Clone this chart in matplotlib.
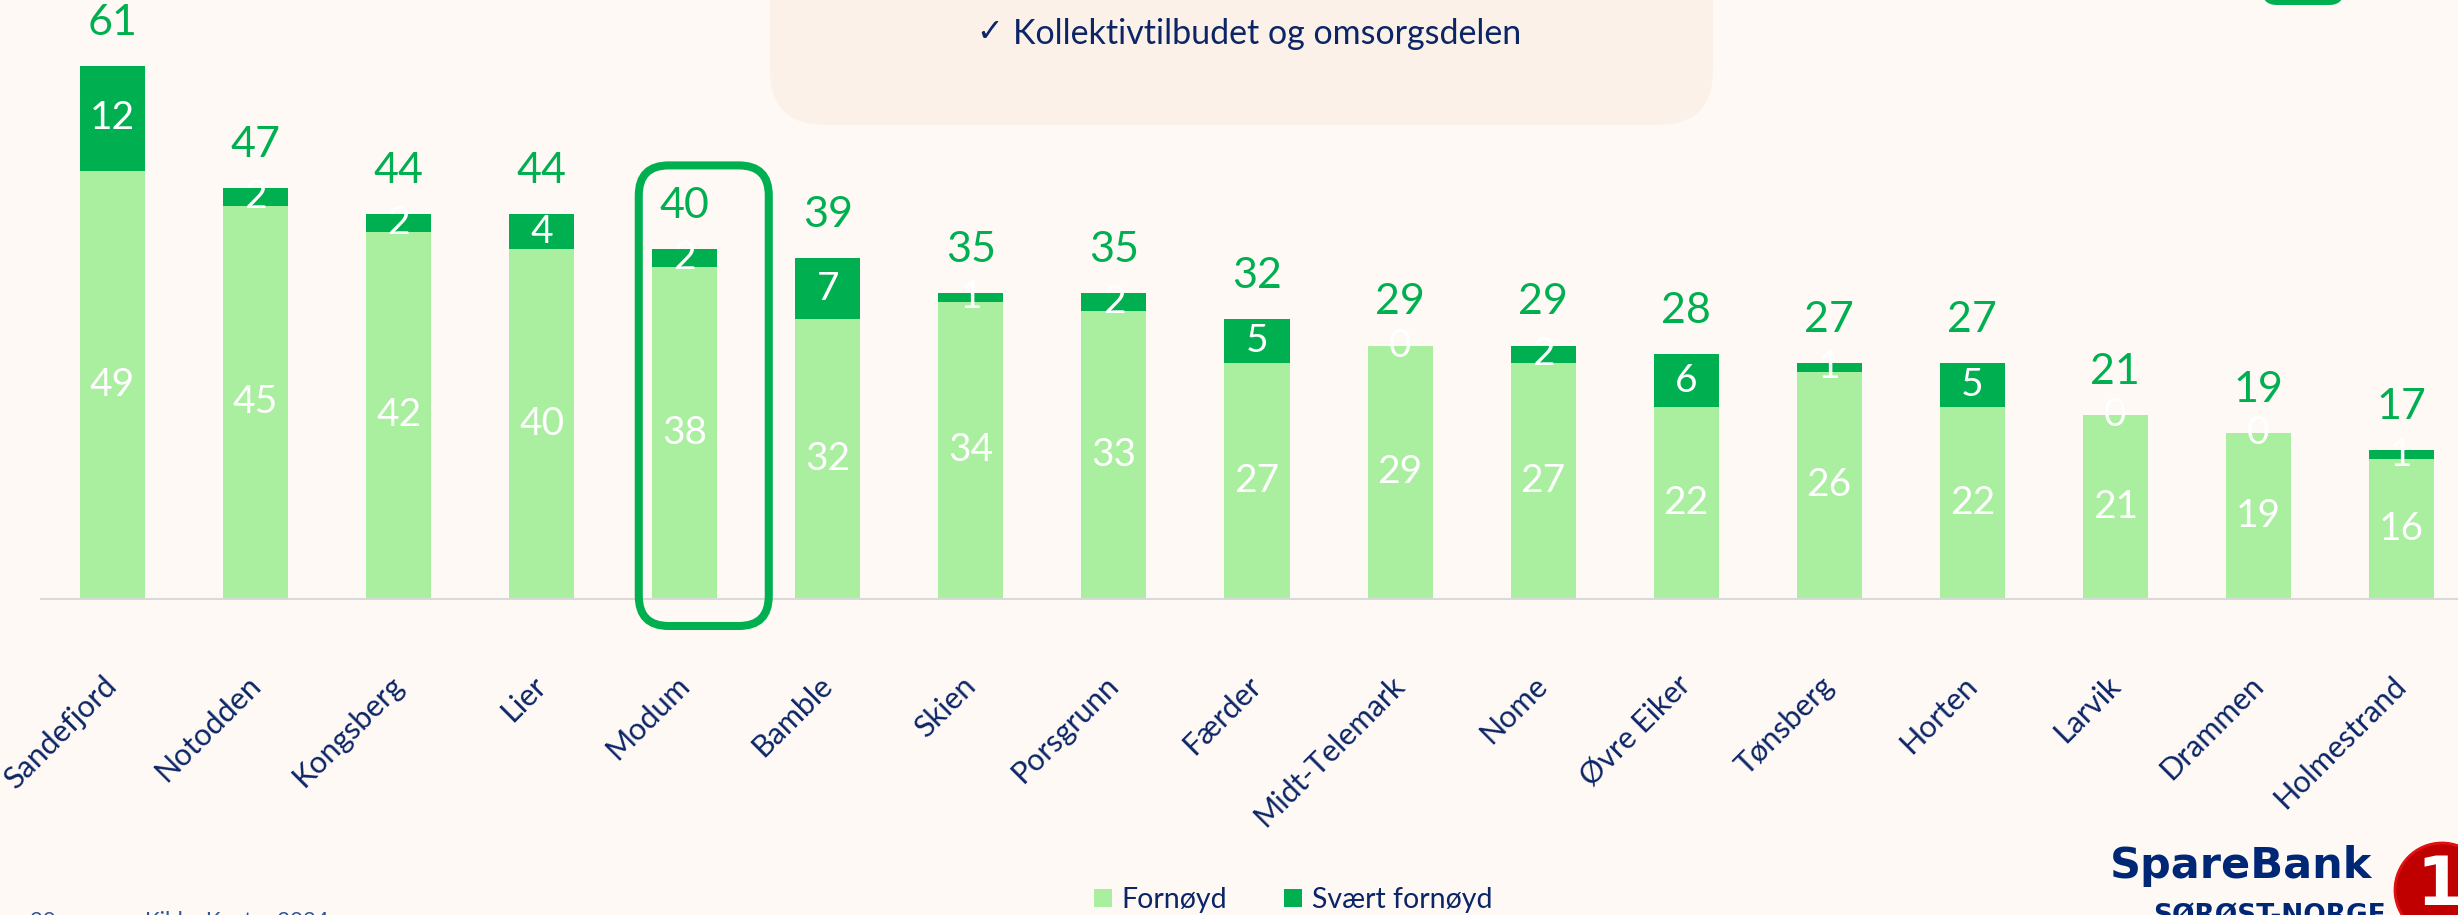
import matplotlib
matplotlib.use("Agg")
import matplotlib.pyplot as plt
from matplotlib.patches import Patch, FancyBboxPatch, Circle
import numpy as np

# ---------------- data ----------------
categories = ["Sandefjord", "Notodden", "Kongsberg", "Lier", "Modum", "Bamble", "Skien",
              "Porsgrunn", "Færder", "Midt-Telemark", "Nome", "Øvre Eiker", "Tønsberg",
              "Horten", "Larvik", "Drammen", "Holmestrand"]
fornoyd = [49, 45, 42, 40, 38, 32, 34, 33, 27, 29, 27, 22, 26, 22, 21, 19, 16]
svaert_fornoyd = [12, 2, 2, 4, 2, 7, 1, 2, 5, 0, 2, 6, 1, 5, 0, 0, 1]
totals = [61, 47, 44, 44, 40, 39, 35, 35, 32, 29, 29, 28, 27, 27, 21, 19, 17]
series_names = ["Fornøyd", "Svært fornøyd"]
highlight = "Modum"
box_text = "Kollektivtilbudet og omsorgsdelen"

# ---------------- style ----------------
BG = "#FEF9F5"
LIGHT = "#AAEE9F"
DARK = "#00B050"
NAVY = "#0B2566"
FONT = ["Lato", "DejaVu Sans"]
plt.rcParams["font.family"] = FONT

W, H, DPI = 2458, 915, 100
fig = plt.figure(figsize=(W / DPI, H / DPI), dpi=DPI, facecolor=BG)

# axes: x from -0.5..16.5 spanning px 41..2473, baseline at px 599 from top
ax_left = 41 / W
ax_w = 2432 / W
ax_bottom = (H - 599) / H
ax_h = 599 / H
ax = fig.add_axes([ax_left, ax_bottom, ax_w, ax_h])
ax.set_facecolor("none")
ax.set_xlim(-0.5, 16.5)
ax.set_ylim(0, 599 / 8.74)

x = np.arange(len(categories))
bw = 0.455
ax.bar(x, fornoyd, bw, color=LIGHT, label=series_names[0], zorder=2)
ax.bar(x, svaert_fornoyd, bw, bottom=fornoyd, color=DARK, label=series_names[1], zorder=2)

for i in range(len(categories)):
    f = fornoyd[i]
    s = svaert_fornoyd[i]
    ax.text(x[i], f / 2, str(f), ha="center", va="center", color="white", fontsize=28, zorder=4)
    ax.text(x[i], f + s / 2, str(s), ha="center", va="center", color="white", fontsize=28, zorder=4)
    ax.annotate(str(totals[i]), (x[i], f + s), xytext=(0, 31), textcoords="offset points",
                ha="center", va="center", color=DARK, fontsize=31, zorder=4,
                annotation_clip=False)

for sp in ["top", "right", "left"]:
    ax.spines[sp].set_visible(False)
ax.spines["bottom"].set_color("#D9D9D9")
ax.spines["bottom"].set_linewidth(1.5)
ax.set_yticks([])
ax.set_xticks(x, categories, rotation=45, ha="right", va="center", rotation_mode="anchor",
              fontsize=22, color=NAVY)
ax.tick_params(axis="x", length=0, pad=59)

# highlight box around Modum (pixel offsets relative to the bar)
fig.canvas.draw()
hi = categories.index(highlight)
cx, ytop = ax.transData.transform((x[hi], fornoyd[hi] + svaert_fornoyd[hi]))
_, ybase = ax.transData.transform((x[hi], 0))
l, r = cx - 46, cx + 84
t, b = ytop + 84, ybase - 27
hbox = FancyBboxPatch((l / DPI, b / DPI), (r - l) / DPI, (t - b) / DPI,
                      boxstyle="round,pad=0,rounding_size=0.30",
                      transform=fig.dpi_scale_trans, fill=False, edgecolor=DARK,
                      linewidth=5.8, zorder=5)
fig.add_artist(hbox)

# top text box
tb = FancyBboxPatch((7.70, 7.90), 17.13 - 7.70, 2.0,
                    boxstyle="round,pad=0,rounding_size=0.55",
                    transform=fig.dpi_scale_trans, facecolor="#FBF1E8", edgecolor="none", zorder=0)
fig.add_artist(tb)
fig.text(9.76 / (W / DPI), 1 - 33 / H, "✓", ha="left", va="center", color=NAVY, fontsize=23,
         family=["DejaVu Sans"])
fig.text(10.13 / (W / DPI), 1 - 34 / H, box_text, ha="left", va="center", color=NAVY, fontsize=24.5)

# top-right green tab
gt = FancyBboxPatch((22.62, 9.10), 0.82, 0.6, boxstyle="round,pad=0,rounding_size=0.15",
                    transform=fig.dpi_scale_trans, facecolor=DARK, edgecolor="none")
fig.add_artist(gt)

# legend
handles = [Patch(facecolor=LIGHT, edgecolor="none"), Patch(facecolor=DARK, edgecolor="none")]
leg = fig.legend(handles, series_names, loc="center", bbox_to_anchor=(1293 / W, 1 - 900 / H),
                 ncol=2, frameon=False, fontsize=20.5, handlelength=0.62, handleheight=0.62,
                 handletextpad=0.35, columnspacing=2.0)
for txt in leg.get_texts():
    txt.set_color(NAVY)

# footer (cut off at the bottom edge, as in the source slide)
fig.text(30 / W, 1 - 911 / H, "20", ha="left", va="top", color="#2F5597", fontsize=16)
fig.text(145 / W, 1 - 911 / H, "Kilde: Kantar 2024", ha="left", va="top", color="#2F5597", fontsize=16)

# logo
fig.text(2110 / W, 1 - 878 / H, "SpareBank", ha="left", va="baseline", color="#002776",
         fontsize=31, fontweight="bold", family=["DejaVu Sans"])
fig.text(2153 / W, 1 - 903 / H, "SØRØST-NORGE", ha="left", va="top", color="#002776",
         fontsize=19, fontweight="bold", family=["DejaVu Sans"])
circ = Circle((24.42, (H - 890) / DPI), 0.47, transform=fig.dpi_scale_trans,
              facecolor="#C00000", edgecolor="#E01010", linewidth=2)
fig.add_artist(circ)
fig.text(2440 / W, 1 - 886 / H, "1", ha="center", va="center", color="white",
         fontsize=48, fontweight="bold", family=["DejaVu Sans"])

fig.savefig("out.png", dpi=DPI, facecolor=BG)
